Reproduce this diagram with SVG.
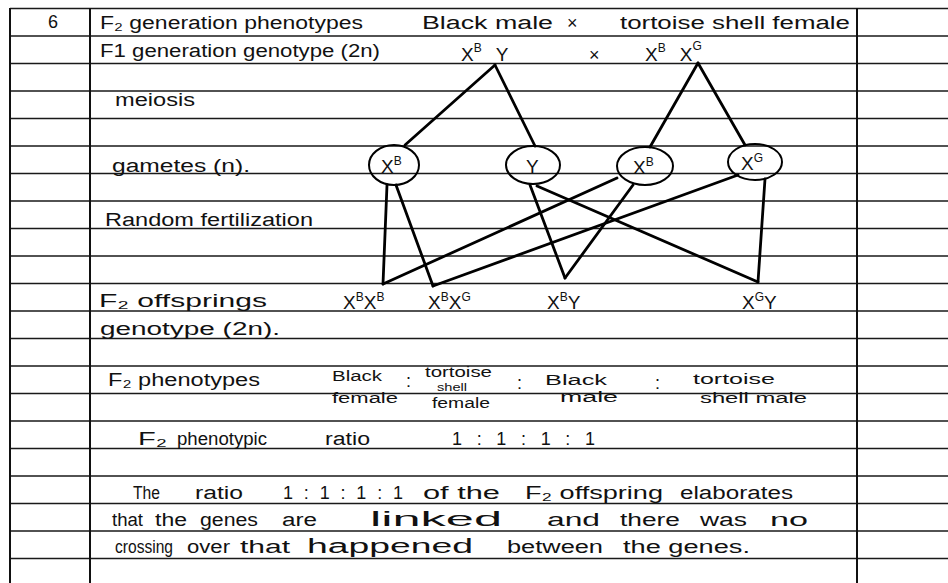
<svg xmlns="http://www.w3.org/2000/svg" width="948" height="583" viewBox="0 0 948 583">
<style>
.rule{stroke:#1a1a1a;stroke-width:1.6;fill:none}
.vrule{stroke:#111;stroke-width:2;fill:none}
.t{font-family:"Liberation Sans","DejaVu Sans",sans-serif;font-size:18px;fill:#111}
.w{font-family:"Liberation Sans","DejaVu Sans",sans-serif;font-size:20px;fill:#111}
.s{font-family:"Liberation Sans","DejaVu Sans",sans-serif;font-size:14px;fill:#111}
.xs{font-family:"Liberation Sans","DejaVu Sans",sans-serif;font-size:11px;fill:#111}
.g{font-family:"Liberation Sans","DejaVu Sans",sans-serif;font-size:19px;fill:#111}
.sup{font-size:12px}
.conn line{stroke:#000;stroke-width:2.8;stroke-linecap:round}
.gam{fill:none;stroke:#000;stroke-width:2}
</style>
<rect width="948" height="583" fill="#fff"/>
<g id="paper">
<path class="rule" d="M10 8.5H948M10 36H948M10 63.5H948M10 91H948M10 118.5H948M10 146H948M10 173.5H948M10 201H948M10 228.5H948M10 256H948M10 283.5H948M10 311H948M10 338.5H948M10 366H948M10 393.5H948M10 421H948M10 448.5H948M10 476H948M10 503.5H948M10 531H948M10 558.5H948"/>
<path class="vrule" d="M10 8V583M90 8V583M857 8V583"/>
</g>
<g id="labels">
<text class="t" x="48" y="28">6</text>
<text class="t" x="100" y="29" textLength="263" lengthAdjust="spacingAndGlyphs">F₂ generation phenotypes</text>
<text class="t" x="422" y="29" textLength="131" lengthAdjust="spacingAndGlyphs">Black male</text>
<text class="t" x="567" y="29">×</text>
<text class="t" x="620" y="29" textLength="230" lengthAdjust="spacingAndGlyphs">tortoise shell female</text>
<text class="t" x="100" y="57" textLength="280" lengthAdjust="spacingAndGlyphs">F1 generation genotype (2n)</text>
<text class="t" x="115" y="106" textLength="80" lengthAdjust="spacingAndGlyphs">meiosis</text>
<text class="t" x="112" y="172" textLength="138" lengthAdjust="spacingAndGlyphs">gametes (n).</text>
<text class="t" x="105" y="226" textLength="208" lengthAdjust="spacingAndGlyphs">Random fertilization</text>
<text class="t" x="99" y="307" textLength="168" lengthAdjust="spacingAndGlyphs">F₂ offsprings</text>
<text class="t" x="100" y="335" textLength="180" lengthAdjust="spacingAndGlyphs">genotype (2n).</text>
<text class="t" x="108" y="386" textLength="152" lengthAdjust="spacingAndGlyphs">F₂ phenotypes</text>
<text class="s" x="332" y="381" textLength="50" lengthAdjust="spacingAndGlyphs">Black</text>
<text class="s" x="332" y="403" textLength="66" lengthAdjust="spacingAndGlyphs">female</text>
<text class="t" x="406" y="387">:</text>
<text class="s" x="425" y="377" textLength="67" lengthAdjust="spacingAndGlyphs">tortoise</text>
<text class="xs" x="437" y="391" textLength="30" lengthAdjust="spacingAndGlyphs">shell</text>
<text class="s" x="432" y="408" textLength="58" lengthAdjust="spacingAndGlyphs">female</text>
<text class="t" x="517" y="389">:</text>
<text class="s" x="545" y="385" textLength="62" lengthAdjust="spacingAndGlyphs">Black</text>
<text class="s" x="560" y="402" textLength="58" lengthAdjust="spacingAndGlyphs">male</text>
<text class="t" x="655" y="389">:</text>
<text class="s" x="693" y="384" textLength="82" lengthAdjust="spacingAndGlyphs">tortoise</text>
<text class="s" x="700" y="403" textLength="107" lengthAdjust="spacingAndGlyphs">shell male</text>
<text class="t" x="138" y="445" textLength="29" lengthAdjust="spacingAndGlyphs">F₂</text>
<text class="t" x="177" y="445" textLength="90" lengthAdjust="spacingAndGlyphs">phenotypic</text>
<text class="t" x="325" y="445" textLength="45" lengthAdjust="spacingAndGlyphs">ratio</text>
<text class="t" x="452" y="445" textLength="143" lengthAdjust="spacing">1 :  1 :  1 : 1</text>
<text class="t" x="133" y="499" textLength="27" lengthAdjust="spacingAndGlyphs">The</text>
<text class="t" x="195" y="499" textLength="48" lengthAdjust="spacingAndGlyphs">ratio</text>
<text class="t" x="283" y="499" textLength="120" lengthAdjust="spacing">1 : 1 : 1 : 1</text>
<text class="t" x="423" y="499" textLength="77" lengthAdjust="spacingAndGlyphs">of the</text>
<text class="t" x="525" y="499" textLength="138" lengthAdjust="spacingAndGlyphs">F₂ offspring</text>
<text class="t" x="680" y="499" textLength="113" lengthAdjust="spacingAndGlyphs">elaborates</text>
<text class="t" x="112" y="526" textLength="31" lengthAdjust="spacingAndGlyphs">that</text>
<text class="t" x="155" y="526" textLength="32" lengthAdjust="spacingAndGlyphs">the</text>
<text class="t" x="200" y="526" textLength="58" lengthAdjust="spacingAndGlyphs">genes</text>
<text class="t" x="282" y="526" textLength="35" lengthAdjust="spacingAndGlyphs">are</text>
<text class="w" x="370" y="526" textLength="132" lengthAdjust="spacingAndGlyphs">linked</text>
<text class="t" x="547" y="526" textLength="53" lengthAdjust="spacingAndGlyphs">and</text>
<text class="t" x="620" y="526" textLength="60" lengthAdjust="spacingAndGlyphs">there</text>
<text class="t" x="700" y="526" textLength="47" lengthAdjust="spacingAndGlyphs">was</text>
<text class="t" x="770" y="526" textLength="38" lengthAdjust="spacingAndGlyphs">no</text>
<text class="t" x="115" y="553" textLength="58" lengthAdjust="spacingAndGlyphs">crossing</text>
<text class="t" x="187" y="553" textLength="43" lengthAdjust="spacingAndGlyphs">over</text>
<text class="t" x="240" y="553" textLength="50" lengthAdjust="spacingAndGlyphs">that</text>
<text class="w" x="307" y="553" textLength="166" lengthAdjust="spacingAndGlyphs">happened</text>
<text class="t" x="507" y="553" textLength="96" lengthAdjust="spacingAndGlyphs">between</text>
<text class="t" x="623" y="553" textLength="127" lengthAdjust="spacingAndGlyphs">the genes.</text>
</g>
<g id="parent-male"><text class="g" x="461" y="61">X<tspan class="sup" dy="-9">B</tspan><tspan dy="9" dx="14">Y</tspan></text></g>
<g id="cross"><text class="t" x="589" y="61">×</text></g>
<g id="parent-female"><text class="g" x="645" y="61">X<tspan class="sup" dy="-9">B</tspan><tspan dy="9" dx="14">X</tspan><tspan class="sup" dy="-11">G</tspan></text></g>
<g id="gamete-XB-m"><ellipse class="gam" cx="394" cy="165" rx="25" ry="20"/><text class="g" x="381" y="173">X<tspan class="sup" dy="-8">B</tspan></text></g>
<g id="gamete-Y"><ellipse class="gam" cx="533" cy="165" rx="27" ry="19"/><text class="g" x="526" y="173">Y</text></g>
<g id="gamete-XB-f"><ellipse class="gam" cx="645" cy="166" rx="28" ry="19"/><text class="g" x="633" y="174">X<tspan class="sup" dy="-8">B</tspan></text></g>
<g id="gamete-XG"><ellipse class="gam" cx="755" cy="162" rx="27" ry="18"/><text class="g" x="741" y="170">X<tspan class="sup" dy="-8">G</tspan></text></g>
<g id="off-XBXB"><text class="g" x="343" y="309">X<tspan class="sup" dy="-8">B</tspan><tspan dy="8">X</tspan><tspan class="sup" dy="-8">B</tspan></text></g>
<g id="off-XBXG"><text class="g" x="428" y="309">X<tspan class="sup" dy="-8">B</tspan><tspan dy="8">X</tspan><tspan class="sup" dy="-8">G</tspan></text></g>
<g id="off-XBY"><text class="g" x="547" y="309">X<tspan class="sup" dy="-8">B</tspan><tspan dy="8">Y</tspan></text></g>
<g id="off-XGY"><text class="g" x="742" y="309">X<tspan class="sup" dy="-8">G</tspan><tspan dy="8">Y</tspan></text></g>
<g id="connectors" class="conn">
<line x1="495" y1="65" x2="405" y2="145"/>
<line x1="495" y1="65" x2="535" y2="146"/>
<line x1="698" y1="63" x2="650" y2="147"/>
<line x1="698" y1="63" x2="745" y2="145"/>
<line x1="387" y1="185" x2="383" y2="284"/>
<line x1="396" y1="185" x2="433" y2="286"/>
<line x1="530" y1="185" x2="565" y2="278"/>
<line x1="537" y1="186" x2="758" y2="282"/>
<line x1="617" y1="178" x2="383" y2="284"/>
<line x1="633" y1="185" x2="565" y2="278"/>
<line x1="738" y1="175" x2="433" y2="286"/>
<line x1="765" y1="179" x2="758" y2="282"/>
</g>
</svg>
